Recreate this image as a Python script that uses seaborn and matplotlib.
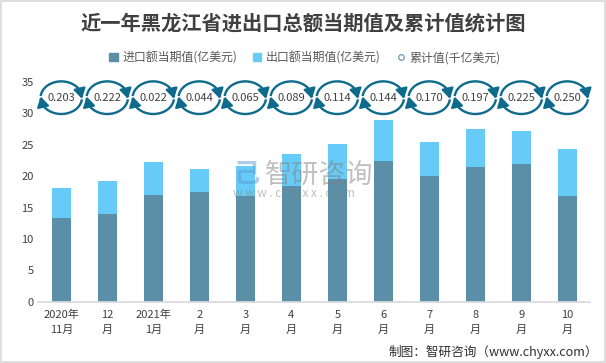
import matplotlib
matplotlib.use('Agg')
import matplotlib.pyplot as plt
import numpy as np
import seaborn as sns
import pandas as pd
from matplotlib.lines import Line2D
from matplotlib.patches import Patch, Arc, Rectangle

months = ['2020年\n11月', '12\n月', '2021年\n1月', '2\n月', '3\n月', '4\n月',
          '5\n月', '6\n月', '7\n月', '8\n月', '9\n月', '10\n月']
imports = [13.3, 14.0, 17.0, 17.5, 16.9, 18.5, 19.5, 22.4, 20.0, 21.4, 21.9, 16.8]
exports = [4.8, 5.2, 5.2, 3.6, 4.7, 5.0, 5.6, 6.5, 5.4, 6.1, 5.3, 7.5]
cumulative = ['0.203', '0.222', '0.022', '0.044', '0.065', '0.089',
              '0.114', '0.144', '0.170', '0.197', '0.225', '0.250']
ticks = [0, 5, 10, 15, 20, 25, 30, 35]

sns.set_theme(style='white')
plt.rcParams['font.family'] = ['Noto Sans CJK SC', 'DejaVu Sans']

df = pd.DataFrame({'month': months, 'imports': imports, 'exports': exports})
df['total'] = df['imports'] + df['exports']

fig, ax = plt.subplots(figsize=(6.06, 3.63), dpi=100)
fig.subplots_adjust(left=38.3 / 606, right=590.3 / 606, top=1 - 82 / 363, bottom=1 - 301.7 / 363)

# stacked by overlaying the total behind the import bar
w = 19 / 46
sns.barplot(data=df, x='month', y='total', color='#66CCF7', width=w, saturation=1, linewidth=0, ax=ax)
sns.barplot(data=df, x='month', y='imports', color='#5B8FA8', width=w, saturation=1, linewidth=0, ax=ax)

ax.set_xlim(-0.5, 11.5)
ax.set_ylim(0, 35)
ax.set_yticks(ticks)
ax.set_xlabel('')
ax.set_ylabel('')
ax.tick_params(axis='both', length=0, labelsize=8, labelcolor='#404040')
ax.tick_params(axis='x', pad=6)
for lab in ax.get_xticklabels():
    lab.set_linespacing(1.6)
sns.despine(ax=ax, left=True)
ax.spines['bottom'].set_color('#D9D9D9')

# circular arrows with the cumulative value
loop_y = 32.5
rx, ry = 0.45, 2.6
loop_color = '#0F6B8C'
head = dict(arrowstyle='-|>,head_length=0.5,head_width=0.3', color=loop_color, lw=1.6, shrinkA=0, shrinkB=0)


def on_loop(i, deg):
    return i + rx * np.cos(np.radians(deg)), loop_y + ry * np.sin(np.radians(deg))


for i, v in enumerate(cumulative):
    ax.add_patch(Arc((i, loop_y), 2 * rx, 2 * ry, theta1=15, theta2=150, color=loop_color, lw=1.7, clip_on=False))
    ax.add_patch(Arc((i, loop_y), 2 * rx, 2 * ry, theta1=195, theta2=330, color=loop_color, lw=1.7, clip_on=False))
    ax.annotate('', xy=on_loop(i, -4), xytext=on_loop(i, 25), arrowprops=head, annotation_clip=False)
    ax.annotate('', xy=on_loop(i, 176), xytext=on_loop(i, 205), arrowprops=head, annotation_clip=False)
    ax.text(i, loop_y, v, ha='center', va='center', fontsize=8, color='#404040', zorder=5)

handles = [Patch(color='#5B8FA8'), Patch(color='#66CCF7'),
           Line2D([], [], marker='o', ls='', ms=4, mfc='white', mec='#5B8FA8', mew=0.8)]
fig.legend(handles, ['进口额当期值(亿美元)', '出口额当期值(亿美元)', '累计值(千亿美元)'],
           loc='center', bbox_to_anchor=(305 / 606, 1 - 57.5 / 363), ncol=3, frameon=False, fontsize=8.6,
           labelcolor='#595959', handlelength=0.7, handleheight=0.7, handletextpad=0.4, columnspacing=1.3)

fig.text(303 / 606, 1 - 23 / 363, '近一年黑龙江省进出口总额当期值及累计值统计图', ha='center', va='center',
         fontsize=14.6, fontweight='bold', color='#404040')
fig.text(598 / 606, 1 - 352 / 363, '制图：智研咨询（www.chyxx.com）', ha='right', va='center',
         fontsize=9.1, color='#303030')

# watermark
fig.text(265 / 606, 1 - 175 / 363, '智研咨询', ha='left', va='center', fontsize=19.5, color='#808080', alpha=0.5)
fig.text(233 / 606, 1 - 194 / 363, 'w w w . c h y x x . c o m', ha='left', va='center', fontsize=8.5,
         color='#808080', alpha=0.5)
fig.text(233 / 606, 1 - 175 / 363, '己', ha='left', va='center', fontsize=19, fontweight='bold', color='#5B9BD5',
         alpha=0.5)

fig.add_artist(Rectangle((0.7 / 606, 1.2 / 363), 604 / 606, 360.8 / 363, transform=fig.transFigure, fill=False,
                         ec='#D9D9D9', lw=1.2))
fig.savefig('out.png', dpi=100)
